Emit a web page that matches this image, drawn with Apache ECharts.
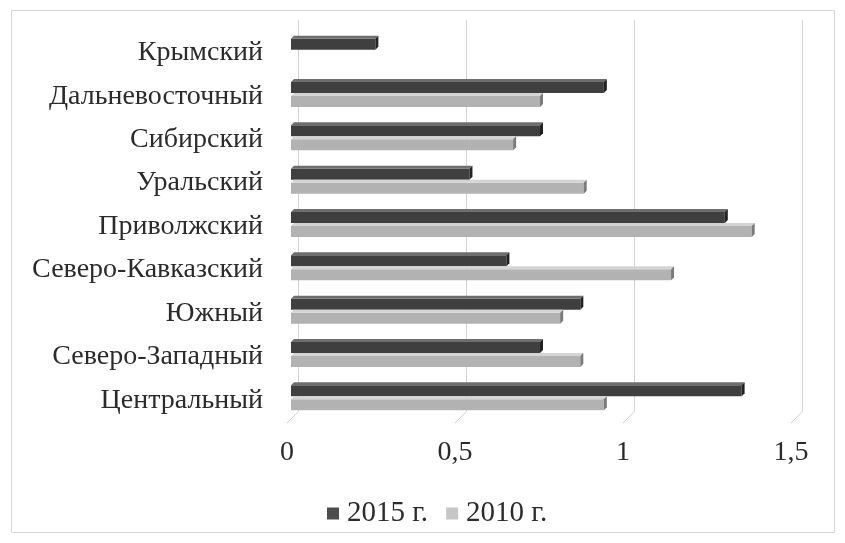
<!DOCTYPE html>
<html>
<head>
<meta charset="utf-8">
<script src="https://cdn.jsdelivr.net/npm/echarts@6/dist/echarts.min.js"></script>
<style>
  html, body { margin: 0; padding: 0; background: #fff; }
  #chart { width: 845px; height: 543px; }
</style>
</head>
<body>
<div id="chart"></div>
<script>
// Federal districts, bottom to top
const regions = [
  'Центральный', 'Северо-Западный', 'Южный', 'Северо-Кавказский',
  'Приволжский', 'Уральский', 'Сибирский', 'Дальневосточный', 'Крымский'
];
const values2015 = [1.35, 0.75, 0.87, 0.65, 1.30, 0.54, 0.75, 0.94, 0.26];
const values2010 = [0.94, 0.87, 0.81, 1.14, 1.38, 0.88, 0.67, 0.75, null];
const seriesNames = ['2015 г.', '2010 г.'];
const xTicks = [0, 0.5, 1, 1.5];

const FONT = '"Liberation Serif", "DejaVu Serif", serif';
const DEPTH = 3;      // bevel of the bars
const BAR_H = 14;

// front, top and side colours of each series
const palette = [
  { front: '#3f3f3f', top: '#6e6e6e', side: '#222222', legend: '#4d4d4d' },
  { front: '#b2b2b2', top: '#d4d4d4', side: '#7a7a7a', legend: '#c6c6c6' }
];

function toPairs(arr) {
  return arr.map((v, i) => (v == null ? [null, i] : [v, i]));
}

function barRenderer(slot) {
  return function (params, api) {
    const v = api.value(0);
    if (v == null || isNaN(v)) return;
    const cat = api.value(1);
    const p0 = api.coord([0, cat]);
    const p1 = api.coord([v, cat]);
    const top = slot === 0 ? p0[1] - BAR_H : p0[1];
    const bottom = top + BAR_H;
    const x0 = p0[0];
    const x1 = p1[0];
    const c = palette[slot];
    return {
      type: 'group',
      children: [
        { type: 'rect', shape: { x: x0, y: top + DEPTH, width: x1 - DEPTH - x0, height: bottom - top - DEPTH },
          style: { fill: c.front } },
        { type: 'polygon', shape: { points: [[x0, top + DEPTH], [x0 + DEPTH, top], [x1, top], [x1 - DEPTH, top + DEPTH]] },
          style: { fill: c.top } },
        { type: 'polygon', shape: { points: [[x1 - DEPTH, top + DEPTH], [x1, top], [x1, bottom - DEPTH], [x1 - DEPTH, bottom]] },
          style: { fill: c.side } }
      ]
    };
  };
}

const chart = echarts.init(document.getElementById('chart'), null, { renderer: 'canvas' });

const axisText = { fontFamily: FONT, fontSize: 28, color: '#2b2b2b' };

chart.setOption({
  backgroundColor: '#ffffff',
  animation: false,
  graphic: [{
    type: 'rect', shape: { x: 11.5, y: 10.5, width: 823, height: 522 },
    style: { fill: 'none', stroke: '#d6d6d6', lineWidth: 1 }, z: -10
  }],
  legend: {
    top: 499, left: 327, padding: 0,
    itemWidth: 12, itemHeight: 12, itemGap: 18,
    textStyle: { fontFamily: FONT, fontSize: 29, color: '#2b2b2b', padding: [0, 0, 0, 3] },
    data: [
      { name: seriesNames[0], icon: 'rect', itemStyle: { color: palette[0].legend } },
      { name: seriesNames[1], icon: 'rect', itemStyle: { color: palette[1].legend } }
    ]
  },
  grid: [
    // back wall with the gridlines
    { left: 298, right: 43, top: 20, bottom: 131 },
    // middle plane holding the bars
    { left: 291, right: 50, top: 28, bottom: 125 },
    // front plane carrying the axis labels
    { left: 287, right: 54, top: 31, bottom: 121 }
  ],
  xAxis: [
    { gridIndex: 0, type: 'value', min: 0, max: 1.5, interval: 0.5,
      axisLine: { show: false }, axisTick: { show: false }, axisLabel: { show: false },
      splitLine: { show: true, lineStyle: { color: '#d2d2d2', width: 1 } } },
    { gridIndex: 1, type: 'value', min: 0, max: 1.5, interval: 0.5, show: false },
    { gridIndex: 2, type: 'value', min: 0, max: 1.5, interval: 0.5,
      axisLine: { show: false }, axisTick: { show: false }, splitLine: { show: false },
      axisLabel: Object.assign({ margin: 17, formatter: v => String(v).replace('.', ',') }, axisText) }
  ],
  yAxis: [
    { gridIndex: 0, type: 'category', data: regions, show: false },
    { gridIndex: 1, type: 'category', data: regions, show: false },
    { gridIndex: 2, type: 'category', data: regions,
      axisLine: { show: false }, axisTick: { show: false }, splitLine: { show: false },
      axisLabel: Object.assign({ margin: 24 }, axisText) }
  ],
  series: [
    { name: seriesNames[0], type: 'custom', xAxisIndex: 1, yAxisIndex: 1,
      renderItem: barRenderer(0), encode: { x: 0, y: 1 }, data: toPairs(values2015), z: 3 },
    { name: seriesNames[1], type: 'custom', xAxisIndex: 1, yAxisIndex: 1,
      renderItem: barRenderer(1), encode: { x: 0, y: 1 }, data: toPairs(values2010), z: 3 },
    // floor lines joining each front tick to the back wall
    { type: 'custom', xAxisIndex: 2, yAxisIndex: 2, silent: true, z: 1,
      encode: { x: 0 },
      data: xTicks.map(v => [v, 0]),
      renderItem: function (params, api) {
        const x = api.coord([api.value(0), 0])[0];
        const bottom = params.coordSys.y + params.coordSys.height;
        return { type: 'line', shape: { x1: x, y1: bottom + 1, x2: x + 11, y2: bottom - 10 },
          style: { stroke: '#d2d2d2', lineWidth: 1 } };
      } }
  ]
});
</script>
</body>
</html>
